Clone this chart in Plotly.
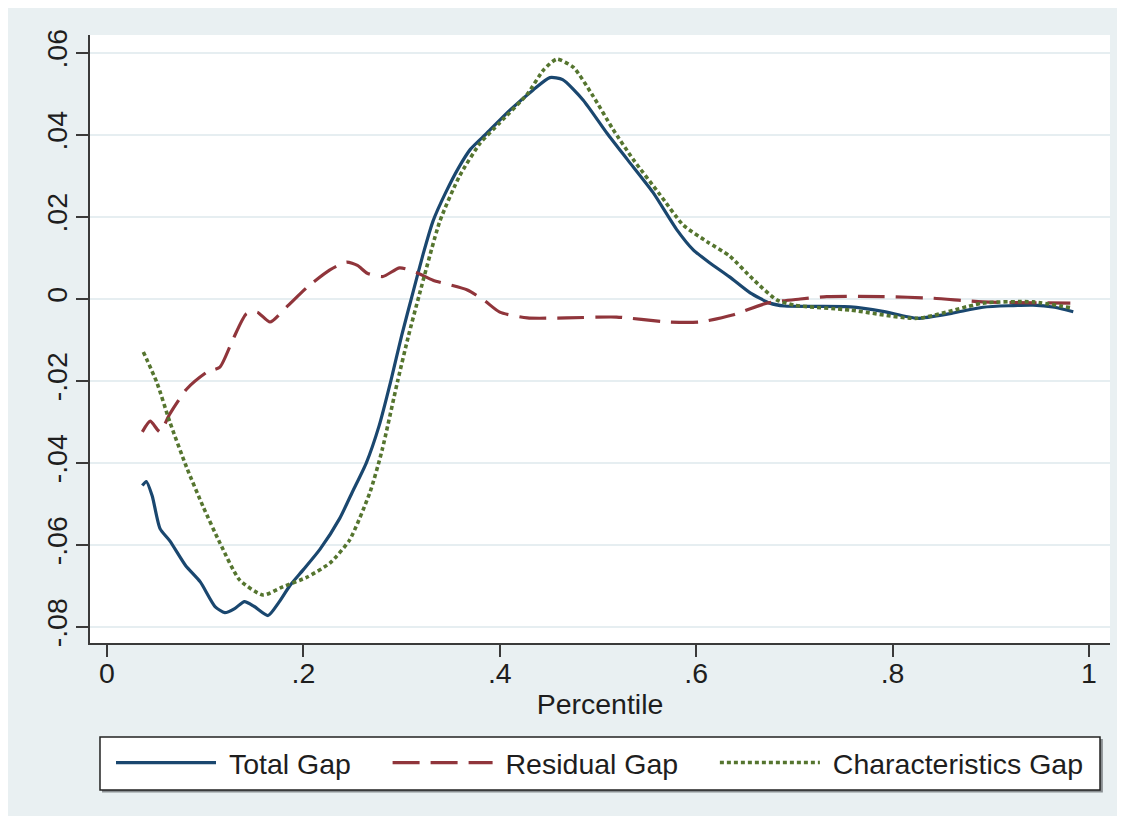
import plotly.graph_objects as go

# ---------------- data ----------------
total_x = [0.036, 0.040, 0.046, 0.054, 0.064, 0.080, 0.095, 0.110, 0.120, 0.130, 0.140, 0.150,
           0.164, 0.175, 0.186, 0.200, 0.217, 0.237, 0.250, 0.264, 0.277, 0.289, 0.300, 0.312,
           0.322, 0.332, 0.345, 0.358, 0.370, 0.387, 0.410, 0.434, 0.451, 0.464, 0.485, 0.509,
           0.530, 0.556, 0.580, 0.597, 0.614, 0.634, 0.655, 0.675, 0.690, 0.720, 0.757, 0.790,
           0.825, 0.860, 0.892, 0.943, 0.965, 0.984]
total_y = [-0.0455, -0.0445, -0.0480, -0.0560, -0.0590, -0.0650, -0.0690, -0.0750, -0.0765, -0.0755,
           -0.0738, -0.0750, -0.0772, -0.0740, -0.0700, -0.0660, -0.0610, -0.0535, -0.0470, -0.0400,
           -0.0310, -0.0200, -0.0090, 0.0020, 0.0110, 0.0190, 0.0260, 0.0320, 0.0365, 0.0405,
           0.0460, 0.0510, 0.0540, 0.0535, 0.0485, 0.0405, 0.0340, 0.0260, 0.0170, 0.0120,
           0.0088, 0.0054, 0.0015, -0.0010, -0.0017, -0.0018, -0.0019, -0.0030, -0.0047, -0.0035,
           -0.0020, -0.0015, -0.0020, -0.0031]

resid_x = [0.036, 0.044, 0.054, 0.064, 0.081, 0.102, 0.115, 0.128, 0.142, 0.153, 0.166, 0.183,
           0.204, 0.227, 0.244, 0.255, 0.265, 0.281, 0.298, 0.315, 0.332, 0.367, 0.385, 0.400,
           0.428, 0.468, 0.519, 0.570, 0.604, 0.637, 0.672, 0.706, 0.733, 0.790, 0.841, 0.892,
           0.981]
resid_y = [-0.0324, -0.0298, -0.0324, -0.0280, -0.0220, -0.0178, -0.0166, -0.0100, -0.0036, -0.0032,
           -0.0056, -0.0019, 0.0029, 0.0071, 0.0090, 0.0082, 0.0063, 0.0055, 0.0076, 0.0065,
           0.0046, 0.0022, -0.0005, -0.0032, -0.0046, -0.0046, -0.0044, -0.0056, -0.0056, -0.0039,
           -0.0010, 0.0000, 0.0006, 0.0006, 0.0002, -0.0007, -0.0010]

char_x = [0.037, 0.051, 0.064, 0.081, 0.098, 0.115, 0.135, 0.159, 0.179, 0.204, 0.227, 0.247,
          0.268, 0.280, 0.296, 0.307, 0.318, 0.339, 0.359, 0.380, 0.400, 0.428, 0.445, 0.458,
          0.475, 0.495, 0.515, 0.536, 0.563, 0.587, 0.611, 0.634, 0.658, 0.682, 0.700, 0.757,
          0.825, 0.892, 0.943, 0.983]
char_y = [-0.0129, -0.0205, -0.0300, -0.0410, -0.0507, -0.0595, -0.0685, -0.0722, -0.0702, -0.0678,
          -0.0644, -0.0588, -0.0470, -0.0370, -0.0200, -0.0090, 0.0010, 0.0190, 0.0300, 0.0380,
          0.0430, 0.0500, 0.0560, 0.0585, 0.0565, 0.0495, 0.0415, 0.0340, 0.0255, 0.0180,
          0.0140, 0.0105, 0.0048, -0.0002, -0.0015, -0.0027, -0.0047, -0.0010, -0.0007, -0.0022]

series_names = ["Total Gap", "Residual Gap", "Characteristics Gap"]

x_tickvals = [0, 0.2, 0.4, 0.6, 0.8, 1.0]
x_ticktext = ["0", ".2", ".4", ".6", ".8", "1"]
y_tickvals = [-0.08, -0.06, -0.04, -0.02, 0.0, 0.02, 0.04, 0.06]
y_ticktext = ["-.08", "-.06", "-.04", "-.02", "0", ".02", ".04", ".06"]
x_title = "Percentile"

# ---------------- style ----------------
FONT = "Liberation Sans, Arial, sans-serif"
FS = 28.5
TXT = "#1e1e1e"
BG = "#e9f0f2"
GRID = "#e6eef1"
AX = "#3a3a3a"
NB = "\u00a0"


def legend_label(name, last=False):
    # non-breaking spaces give the Stata-like spacing between legend keys
    return NB + name + ("" if last else NB * 4)


fig = go.Figure()
fig.add_trace(go.Scatter(x=total_x, y=total_y, name=legend_label(series_names[0]), mode="lines",
                         line=dict(color="#1a476f", width=3.2, shape="spline", smoothing=0.6)))
fig.add_trace(go.Scatter(x=resid_x, y=resid_y, name=legend_label(series_names[1]), mode="lines",
                         line=dict(color="#90353b", width=3.2, dash="27px,11px",
                                   shape="spline", smoothing=0.6)))
fig.add_trace(go.Scatter(x=char_x, y=char_y, name=legend_label(series_names[2], last=True),
                         mode="lines",
                         line=dict(color="#55752f", width=3.6, dash="4px,3px",
                                   shape="spline", smoothing=0.6)))

shapes = [
    # legend shadow
    dict(type="rect", xref="paper", yref="paper", x0=0.0118, x1=0.9930, y0=-0.2460, y1=-0.1580,
         fillcolor="#8a8f92", line=dict(width=0), layer="below"),
    # legend box
    dict(type="rect", xref="paper", yref="paper", x0=0.0098, x1=0.9902, y0=-0.2418, y1=-0.1546,
         fillcolor="white", line=dict(color="#222222", width=1.5), layer="below"),
]

fig.update_layout(
    width=1110, height=808, autosize=False,
    margin=dict(l=82, r=8, t=27, b=173),
    paper_bgcolor=BG, plot_bgcolor="white",
    font=dict(family=FONT, size=FS, color=TXT),
    shapes=shapes,
    showlegend=True,
    legend=dict(orientation="h", x=0.5, xanchor="center", y=-0.1974, yanchor="middle",
                bgcolor="rgba(0,0,0,0)", borderwidth=0, itemwidth=100,
                font=dict(family=FONT, size=FS, color=TXT), traceorder="normal",
                tracegroupgap=0),
    xaxis=dict(range=[-0.0173, 1.0214], tickvals=x_tickvals, ticktext=x_ticktext,
               ticks="outside", ticklen=12, tickwidth=1.5, tickcolor=AX,
               showline=True, linecolor=AX, linewidth=2, showgrid=False, zeroline=False,
               ticklabelstandoff=-8,
               tickfont=dict(family=FONT, size=FS, color=TXT),
               title=dict(text=x_title, font=dict(family=FONT, size=FS, color=TXT), standoff=6)),
    yaxis=dict(range=[-0.0839, 0.0644], tickvals=y_tickvals, ticktext=y_ticktext,
               tickangle=-90, ticks="outside", ticklen=12, tickwidth=1.5, tickcolor=AX,
               showline=True, linecolor=AX, linewidth=2, showgrid=True, gridcolor=GRID,
               gridwidth=2, zeroline=False, ticklabelstandoff=-2,
               tickfont=dict(family=FONT, size=FS, color=TXT)),
)

fig.write_html("out.html")
